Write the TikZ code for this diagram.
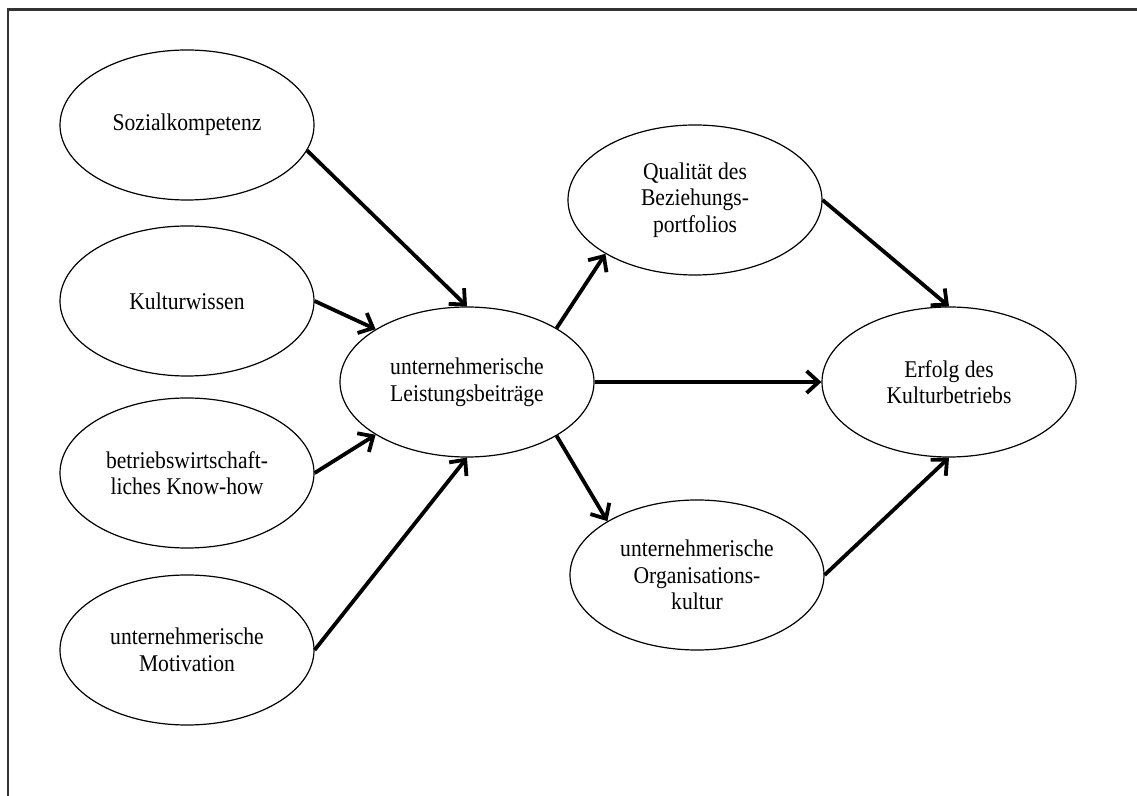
\documentclass[tikz,border=0pt]{standalone}
\usepackage{fontspec}
\setmainfont[FakeStretch=0.9]{Liberation Serif}
\usetikzlibrary{shapes.geometric,arrows.meta}
\tikzset{
  bubble/.style={ellipse, draw=black, line width=0.6pt, minimum width=127pt, minimum height=75pt,
    inner sep=0pt, align=center, font=\fontsize{12}{13.3}\selectfont},
  link/.style={line width=1.9pt, -{Straight Barb[length=6pt,width=11pt,line width=1.9pt]}},
  frame/.style={line width=1.3pt, draw=black!80}
}
\begin{document}
\begin{tikzpicture}[x=0.5pt,y=-0.5pt]
\useasboundingbox (0,0) rectangle (1137,796);
\draw[frame] (8,796) -- (8,9.5) -- (1137,9.5);
\node[bubble] (soz) at (187,125) {Sozialkompetenz};
\node[bubble] (kw)  at (187,301) {Kulturwissen};
\node[bubble] (kh)  at (187,473) {betriebswirtschaft-\\liches Know-how};
\node[bubble] (mot) at (187,650) {unternehmerische\\Motivation};
\node[bubble] (lb)  at (467,382) {unternehmerische\\Leistungsbeiträge};
\node[bubble] (q)   at (695,200) {Qualität des\\Beziehungs-\\portfolios};
\node[bubble] (o)   at (697,575) {unternehmerische\\Organisations-\\kultur};
\node[bubble] (e)   at (949,382) {Erfolg des\\Kulturbetriebs};
\draw[link] (soz.-12) -- (lb.north);
\draw[link] (kw.east) -- (lb.150);
\draw[link] (kh.east) -- (lb.210);
\draw[link] (mot.east) -- (lb.south);
\draw[link] (lb.31) -- (q.211);
\draw[link] (lb.east) -- (e.west);
\draw[link] (lb.-31) -- (o.149);
\draw[link] (q.east) -- (e.north);
\draw[link] (o.east) -- (e.south);
\end{tikzpicture}
\end{document}
